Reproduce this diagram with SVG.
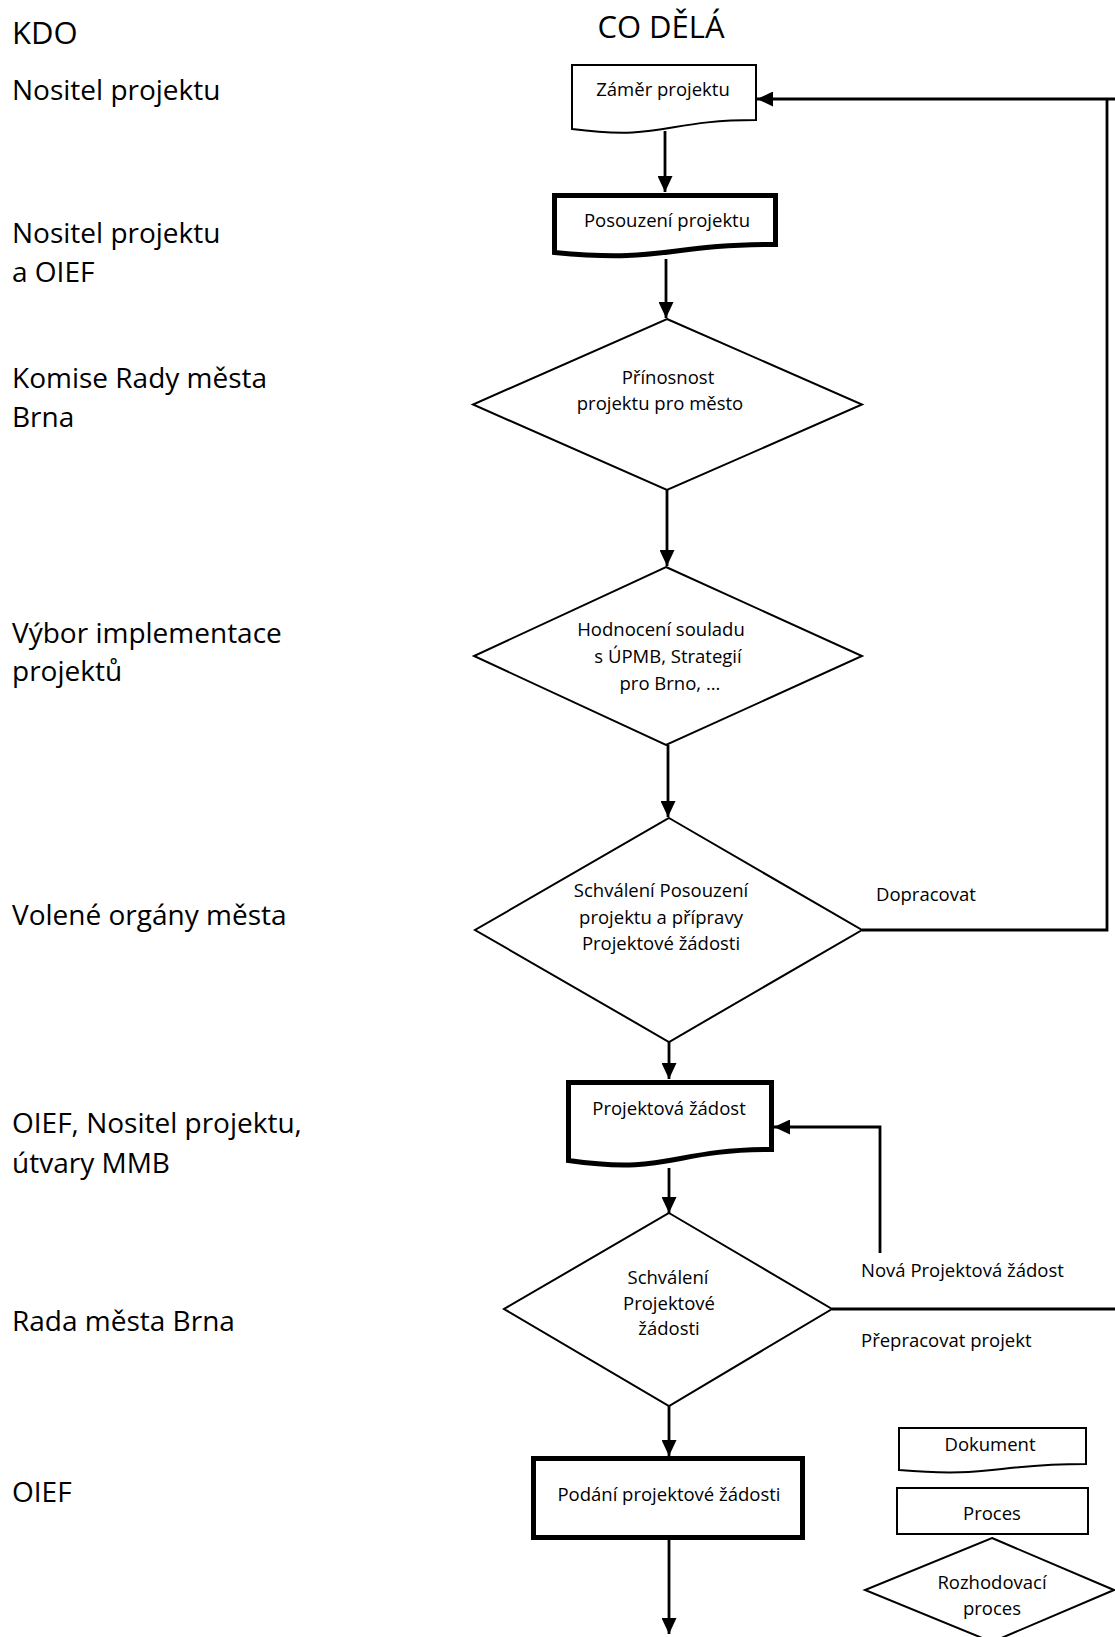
<svg xmlns="http://www.w3.org/2000/svg" width="1115" height="1637" viewBox="0 0 1115 1637">
<style>
.lbl{font-family:"Open Sans","Liberation Sans",sans-serif;font-size:28px;fill:#000}
.hd{font-family:"Open Sans","Liberation Sans",sans-serif;font-size:31px;fill:#000}
.t{font-family:"Open Sans","Liberation Sans",sans-serif;font-size:18.5px;fill:#000;text-anchor:middle}
.tl{font-family:"Open Sans","Liberation Sans",sans-serif;font-size:18.5px;fill:#000}
.thin{fill:#fff;stroke:#000;stroke-width:2}
.thick{fill:#fff;stroke:#000;stroke-width:5;stroke-linejoin:miter}
.dia{fill:#fff;stroke:#000;stroke-width:2}
.c{fill:none;stroke:#000;stroke-width:2.8}
</style>
<defs>
<marker id="ah" markerUnits="userSpaceOnUse" markerWidth="17" markerHeight="15" refX="16" refY="7.5" orient="auto">
<path d="M0,0 L16,7.5 L0,15 Z" fill="#000"/>
</marker>
</defs>
<rect width="1115" height="1637" fill="#fff"/>

<g id="left-labels">
<text class="hd" x="12" y="44">KDO</text>
<text class="lbl" x="12" y="100">Nositel projektu</text>
<text class="lbl" x="12" y="243">Nositel projektu</text>
<text class="lbl" x="12" y="282">a OIEF</text>
<text class="lbl" x="12" y="388">Komise Rady města</text>
<text class="lbl" x="12" y="427">Brna</text>
<text class="lbl" x="12" y="643">Výbor implementace</text>
<text class="lbl" x="12" y="681">projektů</text>
<text class="lbl" x="12" y="925">Volené orgány města</text>
<text class="lbl" x="12" y="1133">OIEF, Nositel projektu,</text>
<text class="lbl" x="12" y="1173">útvary MMB</text>
<text class="lbl" x="12" y="1331">Rada města Brna</text>
<text class="lbl" x="12" y="1502">OIEF</text>
</g>
<text class="hd" x="661" y="38" text-anchor="middle">CO DĚLÁ</text>

<g id="connectors">
<line class="c" x1="665" y1="131" x2="665" y2="192" marker-end="url(#ah)"/>
<line class="c" x1="666" y1="259" x2="666" y2="318" marker-end="url(#ah)"/>
<line class="c" x1="667" y1="490" x2="667" y2="566" marker-end="url(#ah)"/>
<line class="c" x1="668" y1="745" x2="668" y2="817" marker-end="url(#ah)"/>
<line class="c" x1="669" y1="1042" x2="669" y2="1079" marker-end="url(#ah)"/>
<line class="c" x1="669" y1="1168" x2="669" y2="1213" marker-end="url(#ah)"/>
<line class="c" x1="669" y1="1406" x2="669" y2="1456" marker-end="url(#ah)"/>
<line class="c" x1="669" y1="1540" x2="669" y2="1634" marker-end="url(#ah)"/>
<polyline class="c" points="862,930 1107,930 1107,99"/>
<line class="c" x1="1115" y1="99" x2="757" y2="99" marker-end="url(#ah)"/>
<polyline class="c" points="880,1253 880,1127 774,1127" marker-end="url(#ah)"/>
<line class="c" x1="832" y1="1309" x2="1115" y2="1309"/>
</g>

<g id="n-zamer">
<path class="thin" d="M572,65 H756 V120 C664,120 664,141 572,129 Z"/>
<text class="t" x="663" y="96">Záměr projektu</text>
</g>
<g id="n-posouzeni">
<path class="thick" d="M554.5,195.5 H775.5 V244.5 C665,244.5 665,263 554.5,252.5 Z"/>
<text class="t" x="667" y="227">Posouzení projektu</text>
</g>
<g id="n-prinosnost">
<polygon class="dia" points="667,319 862,404.5 667,490 473,404.5"/>
<text class="t" x="668" y="384">Přínosnost</text>
<text class="t" x="660" y="410">projektu pro město</text>
</g>
<g id="n-hodnoceni">
<polygon class="dia" points="666,567 862,656 666,745 474,656"/>
<text class="t" x="661" y="636">Hodnocení souladu</text>
<text class="t" x="668" y="663">s ÚPMB, Strategií</text>
<text class="t" x="670" y="690">pro Brno, ...</text>
</g>
<g id="n-schvaleni-posouzeni">
<polygon class="dia" points="669,818 862,930 669,1042 475,930"/>
<text class="t" x="661" y="897">Schválení Posouzení</text>
<text class="t" x="661" y="923.5">projektu a přípravy</text>
<text class="t" x="661" y="950">Projektové žádosti</text>
</g>
<text class="tl" x="876" y="901">Dopracovat</text>
<g id="n-projektova-zadost">
<path class="thick" d="M568.5,1082.5 H771.5 V1149.5 C670,1149.5 670,1175 568.5,1160.5 Z"/>
<text class="t" x="669" y="1115">Projektová žádost</text>
</g>
<g id="n-schvaleni-zadosti">
<polygon class="dia" points="669,1213 832,1309 669,1406 504,1309"/>
<text class="t" x="668" y="1284">Schválení</text>
<text class="t" x="669" y="1310">Projektové</text>
<text class="t" x="669" y="1335">žádosti</text>
</g>
<text class="tl" x="861" y="1277">Nová Projektová žádost</text>
<text class="tl" x="861" y="1347">Přepracovat projekt</text>
<g id="n-podani">
<rect class="thick" x="533.5" y="1458.5" width="269" height="79"/>
<text class="t" x="669" y="1501">Podání projektové žádosti</text>
</g>

<g id="legend-dokument">
<path class="thin" d="M899,1428 H1086 V1464 C992,1464 992,1478 899,1470 Z"/>
<text class="t" x="990" y="1451">Dokument</text>
</g>
<g id="legend-proces">
<rect class="thin" x="897" y="1488" width="191" height="46"/>
<text class="t" x="992" y="1520">Proces</text>
</g>
<g id="legend-rozhodovaci">
<polygon class="dia" points="992,1538 1114,1590 992,1642 865,1590"/>
<text class="t" x="992" y="1589">Rozhodovací</text>
<text class="t" x="992" y="1615">proces</text>
</g>
</svg>
